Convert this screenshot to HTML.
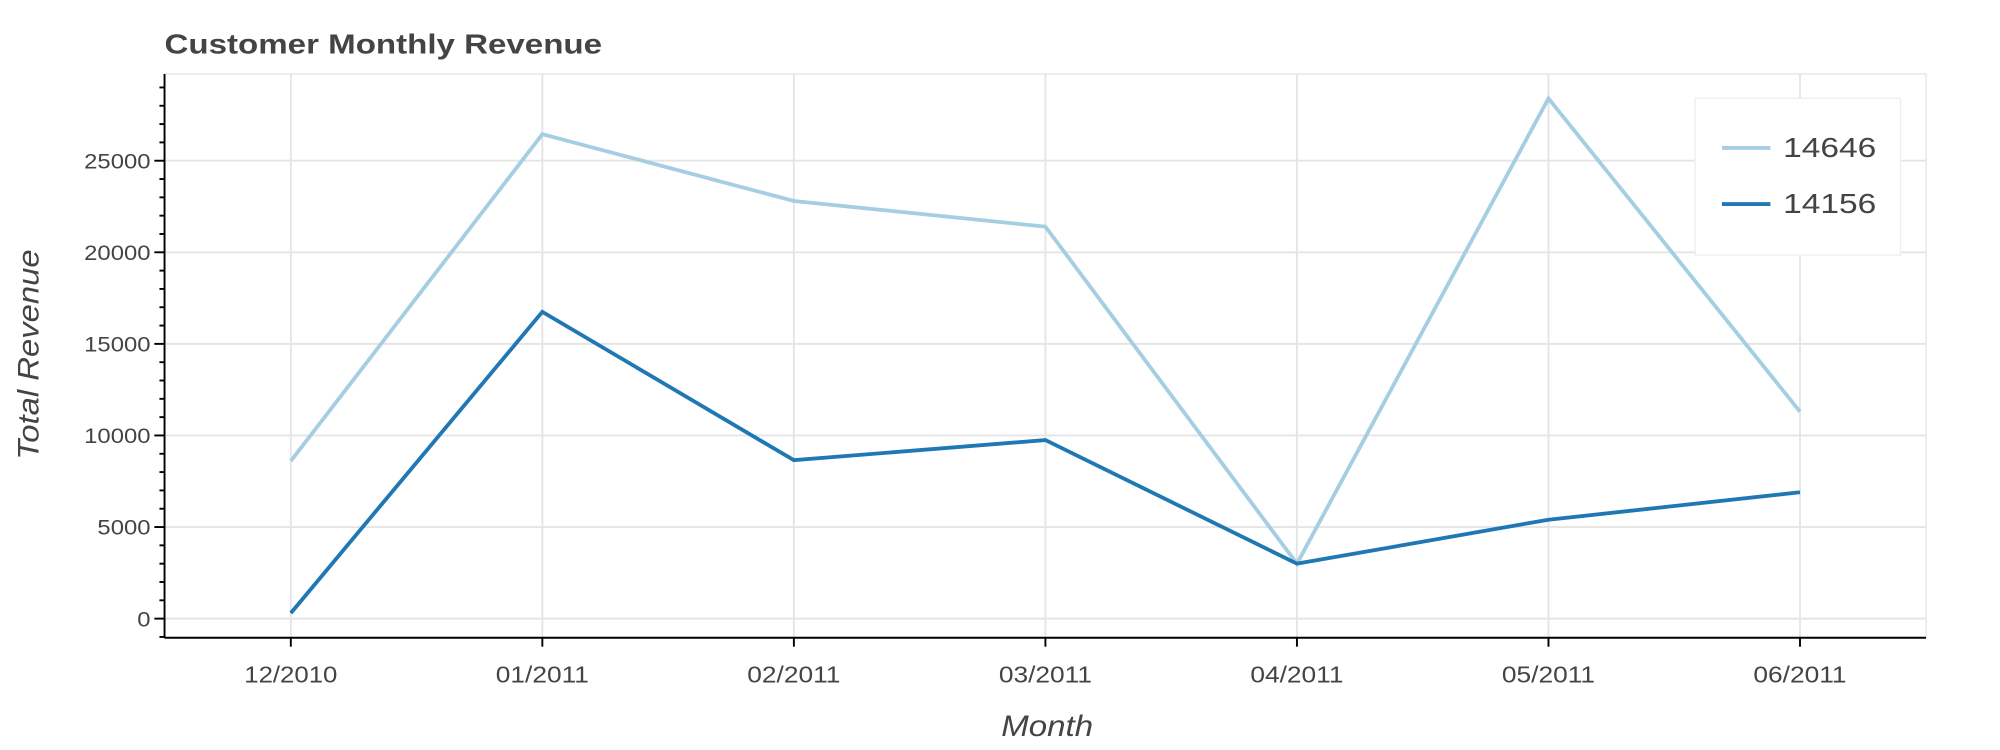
<!DOCTYPE html>
<html><head><meta charset="utf-8"><style>
html,body{margin:0;padding:0;background:#fff;}
svg{display:block;font-family:"Liberation Sans",Arial,sans-serif;}
</style></head><body>
<svg id="chart" width="2000" height="750" viewBox="0 0 1568 588" preserveAspectRatio="none" xmlns="http://www.w3.org/2000/svg">
<text x="129" y="42" font-size="22" font-weight="bold" fill="#444" textLength="343" lengthAdjust="spacingAndGlyphs">Customer Monthly Revenue</text>
<rect x="129" y="58" width="1381" height="442" fill="none" stroke="#e5e5e5" stroke-width="1"/>
<g id="grid"></g>
<g id="series"></g>
<g id="axes"></g>
<text transform="translate(30,278) rotate(-90)" text-anchor="middle" font-size="23" font-style="italic" fill="#444" textLength="165" lengthAdjust="spacingAndGlyphs">Total Revenue</text>
<text x="821" y="577" text-anchor="middle" font-size="23" font-style="italic" fill="#444" textLength="72" lengthAdjust="spacingAndGlyphs">Month</text>
<g>
<rect x="1329" y="77" width="161" height="123" fill="#fff" stroke="#eee"/>
<line x1="1350" y1="116" x2="1388" y2="116" stroke="#a6cee3" stroke-width="3"/>
<text x="1398" y="123" font-size="22" fill="#444" textLength="73" lengthAdjust="spacingAndGlyphs">14646</text>
<line x1="1350" y1="160" x2="1388" y2="160" stroke="#1f78b4" stroke-width="3"/>
<text x="1398" y="167" font-size="22" fill="#444" textLength="73" lengthAdjust="spacingAndGlyphs">14156</text>
</g>
</svg>
<script>
const months = ["12/2010","01/2011","02/2011","03/2011","04/2011","05/2011","06/2011"];
const series14646 = [8600, 26450, 22800, 21400, 3000, 28400, 11300];
const series14156 = [300, 16750, 8650, 9750, 3000, 5400, 6900];
const yTicks = [0, 5000, 10000, 15000, 20000, 25000];
const NS = "http://www.w3.org/2000/svg";
const X0 = 228, DX = 197.2, Y0 = 485, PER = 71.8 / 5000;
function xs(i){ return X0 + i * DX; }
function ys(v){ return Y0 - v * PER; }
function mk(tag, attrs, parent){ const e = document.createElementNS(NS, tag); for (const k in attrs) e.setAttribute(k, attrs[k]); parent.appendChild(e); return e; }
const grid = document.getElementById('grid'), axes = document.getElementById('axes'), ser = document.getElementById('series');
yTicks.forEach(v => {
  const g = mk('line', {x1:129, x2:1510, y1:ys(v), y2:ys(v), stroke:'#e5e5e5', 'stroke-width':1.5}, grid);
  
  
  const s = String(v);
  const t = mk('text', {x:118, y:ys(v)+6, 'text-anchor':'end', 'font-size':17, fill:'#444', textLength: s.length * 10.4, lengthAdjust:'spacingAndGlyphs'}, axes);
  t.textContent = s;
  
  
  const tk = mk('line', {x1:121, x2:129, y1:ys(v), y2:ys(v), stroke:'#000', 'stroke-width':1.5}, axes);
  
  
});
for (let v = -1000; v <= 29000; v += 1000) {
  if (v % 5000 === 0) continue;
  const tk = mk('line', {x1:125, x2:129, y1:ys(v), y2:ys(v), stroke:'#000', 'stroke-width':1.5}, axes);
  
  
}
months.forEach((m, i) => {
  const g = mk('line', {x1:xs(i), x2:xs(i), y1:58, y2:500, stroke:'#e5e5e5', 'stroke-width':1.5}, grid);
  
  
  const tk = mk('line', {x1:xs(i), x2:xs(i), y1:500, y2:507, stroke:'#000', 'stroke-width':1.5}, axes);
  
  
  const t = mk('text', {x:xs(i), y:535, 'text-anchor':'middle', 'font-size':18, fill:'#444', textLength:73, lengthAdjust:'spacingAndGlyphs'}, axes);
  t.textContent = m;
  
  
});
const la = mk('line', {x1:129, x2:129, y1:58, y2:500, stroke:'#000', 'stroke-width':1.5}, axes);


const ba = mk('line', {x1:129, x2:1510, y1:500, y2:500, stroke:'#000', 'stroke-width':1.5}, axes);


function drawLine(vals, color, name){
  const pts = vals.map((v,i) => xs(i)+','+ys(v)).join(' ');
  const p = mk('polyline', {points:pts, fill:'none', stroke:color, 'stroke-width':3, 'stroke-linejoin':'miter'}, ser);
  
  
}
drawLine(series14646, '#a6cee3', 'line-14646');
drawLine(series14156, '#1f78b4', 'line-14156');
</script>
</body></html>
